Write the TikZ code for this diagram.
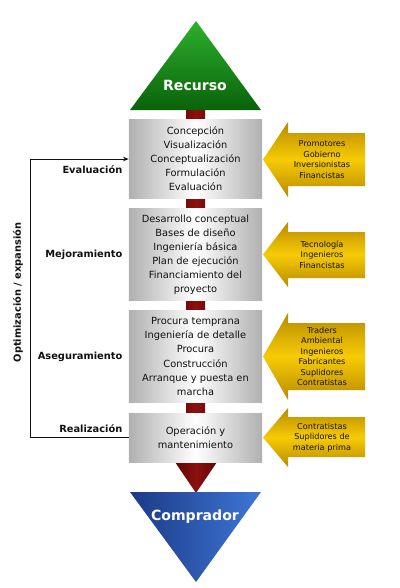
\documentclass[tikz,border=0pt]{standalone}
\usepackage{fontspec}
\setmainfont{DejaVu Sans}
\usetikzlibrary{arrows.meta,positioning,calc}
\definecolor{ink}{HTML}{111111}
\definecolor{spine}{HTML}{5E0303}
\definecolor{spinelt}{HTML}{8E1010}
\definecolor{leaf}{HTML}{2DB02D}
\definecolor{leafdk}{HTML}{0A620A}
\definecolor{navy}{HTML}{1C3A86}
\definecolor{sky}{HTML}{3E76D6}
\definecolor{gold}{HTML}{F7CB05}
\definecolor{golddk}{HTML}{B88A00}
\definecolor{steel}{HTML}{B0B0B0}
\tikzset{
  stage/.style={left color=steel,right color=steel,middle color=white,minimum width=3.325cm,inner sep=2pt,align=center,font=\fontsize{7}{10}\selectfont,text=ink},
  actor/.style={top color=golddk,bottom color=golddk,middle color=gold},
  actortext/.style={align=center,inner sep=1pt,font=\fontsize{5.8}{7.4}\selectfont,text=ink},
  phase/.style={anchor=east,inner sep=1pt,font=\fontsize{7}{9}\selectfont\bfseries,text=ink},
  endtext/.style={inner sep=1pt,font=\fontsize{10}{12}\selectfont\bfseries,text=white},
  loop/.style={line width=0.6pt,draw=ink,-{Stealth[length=1.4mm,width=1.1mm]}}
}

\begin{document}
\begin{tikzpicture}[x=0.025cm,y=0.025cm]
    \useasboundingbox (0,0) rectangle (400,-588);

    % spine
    \shade[left color=spine,right color=spine,middle color=spinelt]
      (186,-108) -- (205,-108) -- (205,-462) -- (217,-462) -- (196,-493) -- (175,-462) -- (186,-462) -- cycle;

    % ends
    \shade[top color=leaf,bottom color=leafdk] (130,-110) -- (196,-21) -- (261,-110) -- cycle;
    \node[endtext] (recurso) at (195,-85) {Recurso};
    \shade[shading angle=135,left color=navy,right color=sky] (130,-492) -- (261,-492) -- (196,-582) -- cycle;
    \node[endtext] (comprador) at (195,-517) {Comprador};

    % stages
    \node[stage,minimum height=1.95cm] (evalbox) at (195.5,-159) {Concepción\\Visualización\\Conceptualización\\Formulación\\Evaluación};
    \node[stage,minimum height=2.275cm] (mejbox) at (195.5,-254.5) {Desarrollo conceptual\\Bases de diseño\\Ingeniería básica\\Plan de ejecución\\Financiamiento del\\proyecto};
    \node[stage,minimum height=2.275cm] (asegbox) at (195.5,-356.5) {Procura temprana\\Ingeniería de detalle\\Procura\\Construcción\\Arranque y puesta en\\marcha};
    \node[stage,minimum height=1.225cm] (opbox) at (195.5,-437.5) {Operación y\\mantenimiento};

    % actors
    \shade[actor] (263,-159.5) -- (288,-122) -- (288,-133) -- (365,-133) -- (365,-186) -- (288,-186) -- (288,-197) -- cycle;
    \node[actortext] (promotores) at (322,-159.5) {Promotores\\Gobierno\\Inversionistas\\Financistas};
    \shade[actor] (263,-254.5) -- (288,-222) -- (288,-232) -- (365,-232) -- (365,-278) -- (288,-278) -- (288,-287) -- cycle;
    \node[actortext] (tecnologia) at (322,-254.5) {Tecnología\\Ingenieros\\Financistas};
    \shade[actor] (263,-356.5) -- (288,-313) -- (288,-323) -- (365,-323) -- (365,-390) -- (288,-390) -- (288,-400) -- cycle;
    \node[actortext] (traders) at (322,-356.5) {Traders\\Ambiental\\Ingenieros\\Fabricantes\\Suplidores\\Contratistas};
    \shade[actor] (263,-437.5) -- (288,-408) -- (288,-417) -- (365,-417) -- (365,-457) -- (288,-457) -- (288,-467) -- cycle;
    \node[actortext] (contratistas) at (322,-437.5) {Contratistas\\Suplidores de\\materia prima};

    % phases
    \node[phase] (evaluacion) at (124,-170) {Evaluación};
    \node[phase] (mejoramiento) at (124,-255) {Mejoramiento};
    \node[phase] (aseguramiento) at (124,-357) {Aseguramiento};
    \node[phase] (realizacion) at (124,-429) {Realización};

    % loop
    \draw[loop] (opbox.west) -- ++(-98,0) |- (evalbox.west);
    \node[rotate=90,inner sep=1pt,font=\fontsize{7}{9}\selectfont\bfseries,text=ink] (optexp) at (18,-292.5) {Optimización / expansión};
  \end{tikzpicture}
\end{document}
